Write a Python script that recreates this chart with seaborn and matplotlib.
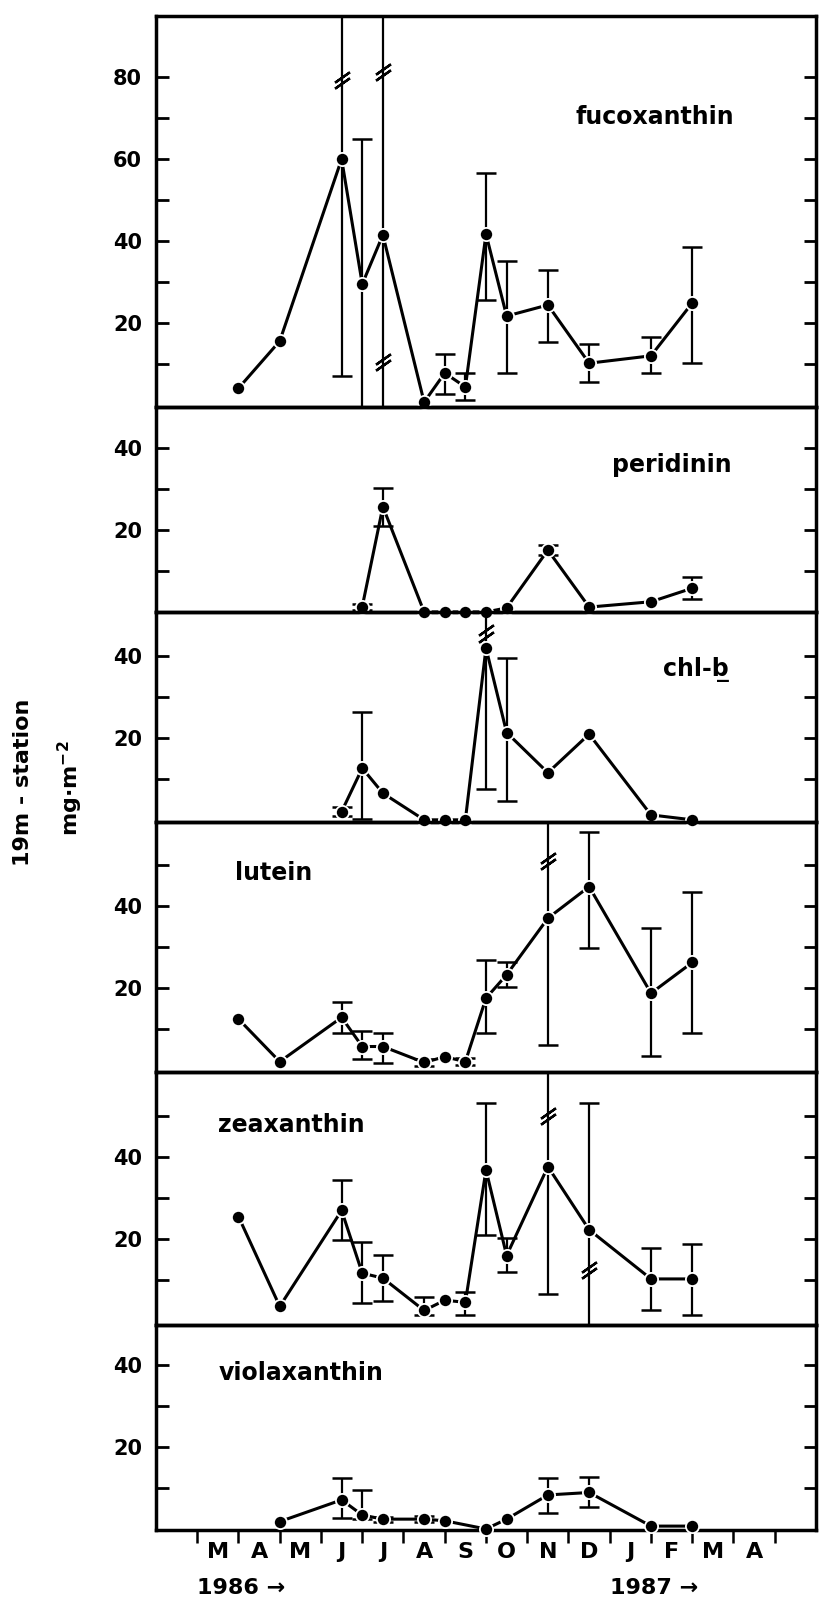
import numpy as np
import pandas as pd
import matplotlib
matplotlib.use("Agg")
import matplotlib.pyplot as plt
import matplotlib.transforms as mtransforms
import seaborn as sns

nan = np.nan

# sampling dates, in months after 1 March 1986
sample_month = [1.0, 2.0, 3.5, 4.0, 4.5, 5.5, 6.0, 6.5, 7.0, 7.5, 8.5, 9.5, 11.0, 12.0]

month_labels = ["M", "A", "M", "J", "J", "A", "S", "O", "N", "D", "J", "F", "M", "A"]
year_labels = ["1986 \u2192", "1987 \u2192"]
year_label_month = [0, 10]

# pigment values (mg m-2) and error-bar bounds (lower / upper); nan = none
fucoxanthin = [4.1, 15.6, 60.0, 29.5, 41.5, 0.7, 7.8, 4.4, 41.7, 21.7, 24.4, 10.2, 12.0, 24.9]
fucoxanthin_lo = [nan, nan, 7.1, -5, -5, nan, 2.7, 1.2, 25.6, 7.8, 15.4, 5.6, 7.8, 10.2]
fucoxanthin_hi = [nan, nan, 120, 65.0, 120, nan, 12.4, 7.8, 56.6, 35.1, 32.9, 14.9, 16.6, 38.5]
fucoxanthin_breaks = [(3.5, 79.3), (4.5, 81.2), (4.5, 10.5)]

peridinin = [nan, nan, nan, 1.3, 25.7, 0.0, 0.0, 0.0, 0.0, 1.0, 15.1, 1.2, 2.5, 5.8]
peridinin_lo = [nan, nan, nan, 0.6, 21.0, nan, nan, nan, nan, nan, 14.0, nan, nan, 3.1]
peridinin_hi = [nan, nan, nan, 2.0, 30.2, nan, nan, nan, nan, nan, 16.3, nan, nan, 8.6]
peridinin_breaks = []

chl_b = [nan, nan, 2.0, 12.6, 6.5, 0.0, 0.0, 0.0, 41.9, 21.3, 11.5, 20.9, 1.2, 0.0]
chl_b_lo = [nan, nan, 0.9, 0.3, nan, nan, nan, nan, 7.5, 4.5, nan, nan, nan, nan]
chl_b_hi = [nan, nan, 3.2, 26.4, nan, nan, nan, nan, 120, 39.4, nan, nan, nan, nan]
chl_b_breaks = [(7.0, 45.5)]

lutein = [12.4, 2.0, 12.8, 5.7, 5.7, 1.8, 3.2, 2.0, 17.5, 23.2, 37.0, 44.7, 18.7, 26.2]
lutein_lo = [nan, nan, 9.0, 2.6, 1.6, 1.0, nan, 1.2, 9.0, 20.3, 6.1, 29.7, 3.5, 9.0]
lutein_hi = [nan, nan, 16.5, 9.6, 9.0, 2.6, nan, 2.8, 26.8, 26.2, 120, 58.1, 34.6, 43.3]
lutein_breaks = [(8.5, 51.0)]

zeaxanthin = [25.4, 3.5, 26.9, 11.6, 10.4, 2.5, 5.0, 4.5, 36.8, 15.9, 37.6, 22.2, 10.2, 10.2]
zeaxanthin_lo = [nan, nan, 19.8, 4.3, 4.7, 1.5, nan, 1.5, 21.0, 11.8, 6.6, -5, 2.7, 1.5]
zeaxanthin_hi = [nan, nan, 34.4, 19.1, 16.1, 5.9, nan, 6.9, 53.2, 20.2, 120, 53.1, 17.7, 18.8]
zeaxanthin_breaks = [(8.5, 50.0), (9.5, 12.4)]

violaxanthin = [nan, 1.8, 7.1, 3.4, 2.4, 2.4, 2.0, nan, 0.0, 2.4, 8.3, 8.9, 0.7, 0.7]
violaxanthin_lo = [nan, nan, 2.6, 2.5, 1.8, 1.8, nan, nan, nan, nan, 3.8, 5.4, nan, nan]
violaxanthin_hi = [nan, nan, 12.4, 9.5, 3.0, 3.2, nan, nan, nan, nan, 12.4, 12.8, nan, nan]
violaxanthin_breaks = []

panel_names = ["fucoxanthin", "peridinin", "chl-b\u0332", "lutein", "zeaxanthin", "violaxanthin"]
panel_values = [fucoxanthin, peridinin, chl_b, lutein, zeaxanthin, violaxanthin]
panel_lo = [fucoxanthin_lo, peridinin_lo, chl_b_lo, lutein_lo, zeaxanthin_lo, violaxanthin_lo]
panel_hi = [fucoxanthin_hi, peridinin_hi, chl_b_hi, lutein_hi, zeaxanthin_hi, violaxanthin_hi]
panel_breaks = [fucoxanthin_breaks, peridinin_breaks, chl_b_breaks, lutein_breaks,
                zeaxanthin_breaks, violaxanthin_breaks]

# layout (not data)
panel_ylim = [(-0.5, 94.9), (0, 50), (-0.5, 50.7), (-0.5, 60.5), (-1, 60.7), (-0.25, 49.8)]
panel_major = [[20, 40, 60, 80], [20, 40], [20, 40], [20, 40], [20, 40], [20, 40]]
panel_minor = [[10, 30, 50, 70], [10, 30], [10, 30], [10, 30, 50], [10, 30, 50], [10, 30]]
label_pos = [(11.1, 70.2), (11.5, 35.9), (12.1, 36.6), (1.86, 48.0), (2.29, 47.8), (2.52, 38.0)]

sns.set_theme(style="ticks")
plt.rcParams["font.family"] = ["DejaVu Sans"]
plt.rcParams["font.weight"] = "bold"
plt.rcParams["mathtext.default"] = "regular"
plt.rcParams["axes.linewidth"] = 2.5

W, H = 820, 1603
fig = plt.figure(figsize=(W / 100, H / 100), dpi=100, facecolor="white")
ratios = [hi - lo for lo, hi in panel_ylim]
gs = fig.add_gridspec(6, 1, height_ratios=ratios, hspace=0,
                      left=156 / W, right=816 / W, top=1 - 16 / H, bottom=1 - 1530 / H)

axes = []
for i in range(6):
    ax = fig.add_subplot(gs[i])
    ax.patch.set_visible(False)
    df = pd.DataFrame({"month": sample_month, "value": panel_values[i],
                       "lo": panel_lo[i], "hi": panel_hi[i]})
    e = df.dropna(subset=["lo", "hi", "value"])
    if len(e):
        ax.errorbar(e["month"], e["value"],
                    yerr=[e["value"] - e["lo"], e["hi"] - e["value"]],
                    fmt="none", ecolor="black", elinewidth=1.6, capsize=7,
                    capthick=1.8, zorder=2)
    d = df.dropna(subset=["value"])
    sns.lineplot(data=d, x="month", y="value", ax=ax, color="black", linewidth=2.2,
                 marker="o", markersize=9.5, markeredgecolor="white",
                 markeredgewidth=1.3, estimator=None, sort=False, clip_on=False,
                 zorder=3)
    for bx, by in panel_breaks[i]:
        ax.plot([bx, bx], [by - 0.8, by + 0.8], ls="none", marker=(2, 2, -55),
                ms=13, mew=1.7, color="black", zorder=4, clip_on=False)
    ax.set_ylim(*panel_ylim[i])
    ax.set_xlim(-1.0, 15.0)
    ax.set_yticks(panel_major[i])
    ax.set_yticklabels([str(v) for v in panel_major[i]])
    ax.set_yticks(panel_minor[i], minor=True)
    ax.tick_params(axis="y", which="both", direction="in", length=9, width=2,
                   left=True, right=True, labelsize=15, pad=10, colors="black")
    ax.set_xlabel("")
    ax.set_ylabel("")
    for s in ax.spines.values():
        s.set_linewidth(2.5)
        s.set_color("black")
    lx, ly = label_pos[i]
    ax.text(lx, ly, panel_names[i], ha="center", va="center", fontsize=17,
            fontweight="bold", color="black")
    if i < 5:
        ax.tick_params(axis="x", which="both", bottom=False, labelbottom=False)
    axes.append(ax)

ax = axes[-1]
ax.set_xticks([m + 0.5 for m in range(len(month_labels))])
ax.set_xticklabels(month_labels)
ax.set_xticks(list(range(len(month_labels) + 1)), minor=True)
ax.tick_params(axis="x", which="major", length=0, pad=9, labelsize=16, colors="black")
ax.tick_params(axis="x", which="minor", direction="out", length=9, width=1.8,
               colors="black")

tr = mtransforms.blended_transform_factory(ax.transData, fig.transFigure)
for lab, m in zip(year_labels, year_label_month):
    ax.text(m, 1 - 1588 / H, lab, transform=tr, ha="left", va="center",
            fontsize=16, fontweight="bold", color="black")

fig.text(23 / W, 1 - 782 / H, "19m - station", rotation=90, ha="center",
         va="center", fontsize=16, fontweight="bold", color="black")
fig.text(70 / W, 1 - 788 / H, "mg\u00b7m$^{-2}$", rotation=90, ha="center",
         va="center", fontsize=16, fontweight="bold", color="black")

fig.savefig("out.png", dpi=100, facecolor="white")
